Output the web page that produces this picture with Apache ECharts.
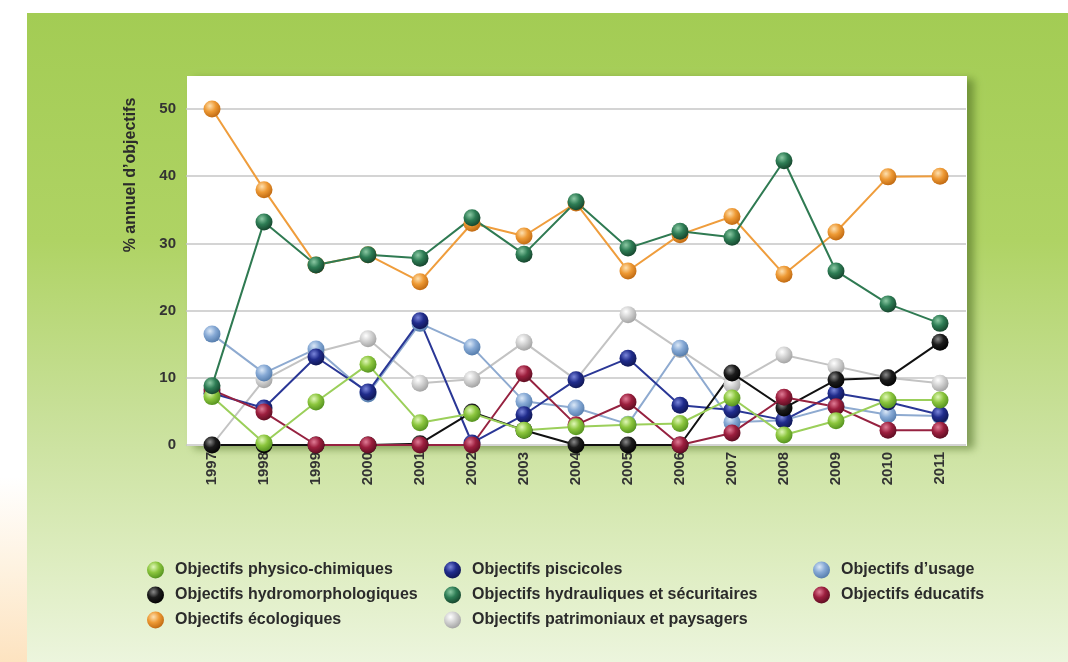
<!DOCTYPE html>
<html>
<head>
<meta charset="utf-8">
<script src="https://cdn.jsdelivr.net/npm/echarts@6/dist/echarts.min.js"></script>
<style>
  html, body { margin: 0; padding: 0; background: #ffffff; }
  #chart { width: 1068px; height: 662px; }
</style>
</head>
<body>
<div id="chart"></div>
<script>
// Years on the horizontal axis
const years = ['1997','1998','1999','2000','2001','2002','2003','2004','2005','2006','2007','2008','2009','2010','2011'];

// Yearly share of objectives (%) per category
const physicoChimiques   = [7.2, 0.3, 6.4, 12.0, 3.3, 4.7, 2.2, 2.7, 3.0, 3.2, 7.0, 1.5, 3.6, 6.7, 6.7];
const hydromorphologiques = [0, 0, 0, 0, 0.2, 4.9, 2.2, 0, 0, 0, 10.7, 5.5, 9.7, 10.0, 15.3];
const ecologiques        = [50.0, 38.0, 26.8, 28.3, 24.3, 33.0, 31.1, 36.0, 25.9, 31.3, 34.0, 25.4, 31.7, 39.9, 40.0];
const piscicoles         = [7.7, 5.5, 13.1, 7.9, 18.5, 0.3, 4.5, 9.7, 12.9, 5.9, 5.2, 3.7, 7.7, 6.4, 4.5];
const hydrauliques       = [8.8, 33.2, 26.8, 28.3, 27.8, 33.8, 28.4, 36.2, 29.3, 31.8, 30.9, 42.3, 25.9, 21.0, 18.1];
const patrimoniaux       = [0, 9.7, 13.8, 15.8, 9.2, 9.8, 15.3, 9.7, 19.4, 14.2, 9.0, 13.4, 11.7, 10.0, 9.2];
const usage              = [16.5, 10.7, 14.3, 7.6, 18.1, 14.6, 6.5, 5.5, 3.1, 14.4, 3.4, 3.7, 5.8, 4.5, 4.3];
const educatifs          = [8.2, 4.9, 0, 0, 0, 0, 10.6, 3.0, 6.4, 0, 1.8, 7.1, 5.7, 2.2, 2.2];

// Value axis ticks
const yTicks = { min: 0, max: 50, interval: 10 };

const FONT = "'Liberation Sans', Arial, sans-serif";

// Shaded sphere fill for the markers
function sphere(hl, base, dark) {
  return new echarts.graphic.RadialGradient(0.38, 0.32, 0.75, [
    { offset: 0, color: hl },
    { offset: 0.45, color: base },
    { offset: 1, color: dark }
  ]);
}

function makeSeries(name, data, line, hl, base, dark) {
  return {
    name: name,
    type: 'line',
    data: data,
    symbol: 'circle',
    symbolSize: 17,
    showSymbol: true,
    lineStyle: { color: line, width: 2 },
    itemStyle: { color: sphere(hl, base, dark), borderWidth: 0 },
    emphasis: { disabled: true },
    animation: false
  };
}

const N_PHYS = 'Objectifs physico-chimiques';
const N_HYDM = 'Objectifs hydromorphologiques';
const N_ECOL = 'Objectifs écologiques';
const N_PISC = 'Objectifs piscicoles';
const N_HYDR = 'Objectifs hydrauliques et sécuritaires';
const N_PATR = 'Objectifs patrimoniaux et paysagers';
const N_USAG = 'Objectifs d\u2019usage';
const N_EDUC = 'Objectifs éducatifs';

const legendText = { fontFamily: FONT, fontWeight: 'bold', fontSize: 16, color: '#2b2b2b', lineHeight: 18, padding: [0, 0, 0, 6] };
function legendBlock(left, names) {
  return {
    left: left, top: 556, orient: 'vertical', icon: 'circle',
    itemWidth: 17, itemHeight: 17, itemGap: 7,
    selectedMode: false, textStyle: legendText, data: names
  };
}

const chart = echarts.init(document.getElementById('chart'), null, { renderer: 'canvas' });
chart.setOption({
  animation: false,
  graphic: [
    { type: 'rect', z: -100, shape: { x: 0, y: 0, width: 27, height: 662 },
      style: { fill: new echarts.graphic.LinearGradient(0, 0, 0, 1, [
        { offset: 0, color: '#ffffff' }, { offset: 0.72, color: '#ffffff' },
        { offset: 0.85, color: '#fef3e2' }, { offset: 1, color: '#fde3c0' }]) } },
    { type: 'rect', z: -100, shape: { x: 27, y: 13, width: 1041, height: 649 },
      style: { fill: new echarts.graphic.LinearGradient(0, 0, 0, 1, [
        { offset: 0, color: '#a3cc54' }, { offset: 0.35, color: '#afd364' },
        { offset: 0.62, color: '#c8e099' }, { offset: 0.85, color: '#deedc1' },
        { offset: 1, color: '#ecf5dd' }]) } },
    { type: 'rect', z: -90, shape: { x: 187, y: 76, width: 780, height: 370 },
      style: { fill: '#ffffff', shadowColor: 'rgba(70,100,30,0.55)', shadowBlur: 8, shadowOffsetX: 7, shadowOffsetY: 3 } },
    { type: 'text', z: 10, x: 131, y: 175, rotation: Math.PI / 2,
      style: { text: '% annuel d\u2019objectifs', font: 'bold 16px ' + FONT, fill: '#2b2b2b',
        textAlign: 'center', textVerticalAlign: 'middle' } }
  ],
  grid: { left: 186, right: 102, top: 109, bottom: 217 },
  xAxis: {
    type: 'category', data: years, boundaryGap: true,
    axisLine: { show: false }, axisTick: { show: false },
    axisLabel: { rotate: 90, margin: 7, fontFamily: FONT, fontWeight: 'bold', fontSize: 15, color: '#333333' }
  },
  yAxis: {
    type: 'value', min: yTicks.min, max: yTicks.max, interval: yTicks.interval,
    axisLine: { show: false }, axisTick: { show: false },
    axisLabel: { margin: 10, fontFamily: FONT, fontWeight: 'bold', fontSize: 15, color: '#333333' },
    splitLine: { lineStyle: { color: '#c6c6c6', width: 1.5 } }
  },
  legend: [
    legendBlock(142, [N_PHYS, N_HYDM, N_ECOL]),
    legendBlock(439, [N_PISC, N_HYDR, N_PATR]),
    legendBlock(808, [N_USAG, N_EDUC])
  ],
  series: [
    makeSeries(N_PATR, patrimoniaux, '#c3c3c3', '#ffffff', '#d2d2d2', '#9c9c9c'),
    makeSeries(N_USAG, usage, '#8eaad0', '#dbe8f7', '#86a9d5', '#4e76a6'),
    makeSeries(N_PISC, piscicoles, '#2a3796', '#7a86da', '#202c8c', '#0e144c'),
    makeSeries(N_HYDM, hydromorphologiques, '#111111', '#8a8a8a', '#1c1c1c', '#000000'),
    makeSeries(N_EDUC, educatifs, '#962240', '#e07c96', '#9c1f3e', '#550b1e'),
    makeSeries(N_PHYS, physicoChimiques, '#9bcf5a', '#e0f7b8', '#8cc63e', '#4c8a1a'),
    makeSeries(N_ECOL, ecologiques, '#ef9d3c', '#fde0b0', '#ee9a35', '#b9620c'),
    makeSeries(N_HYDR, hydrauliques, '#2f7a52', '#8cc9a4', '#2e7d55', '#123d27')
  ]
});
</script>
</body>
</html>
